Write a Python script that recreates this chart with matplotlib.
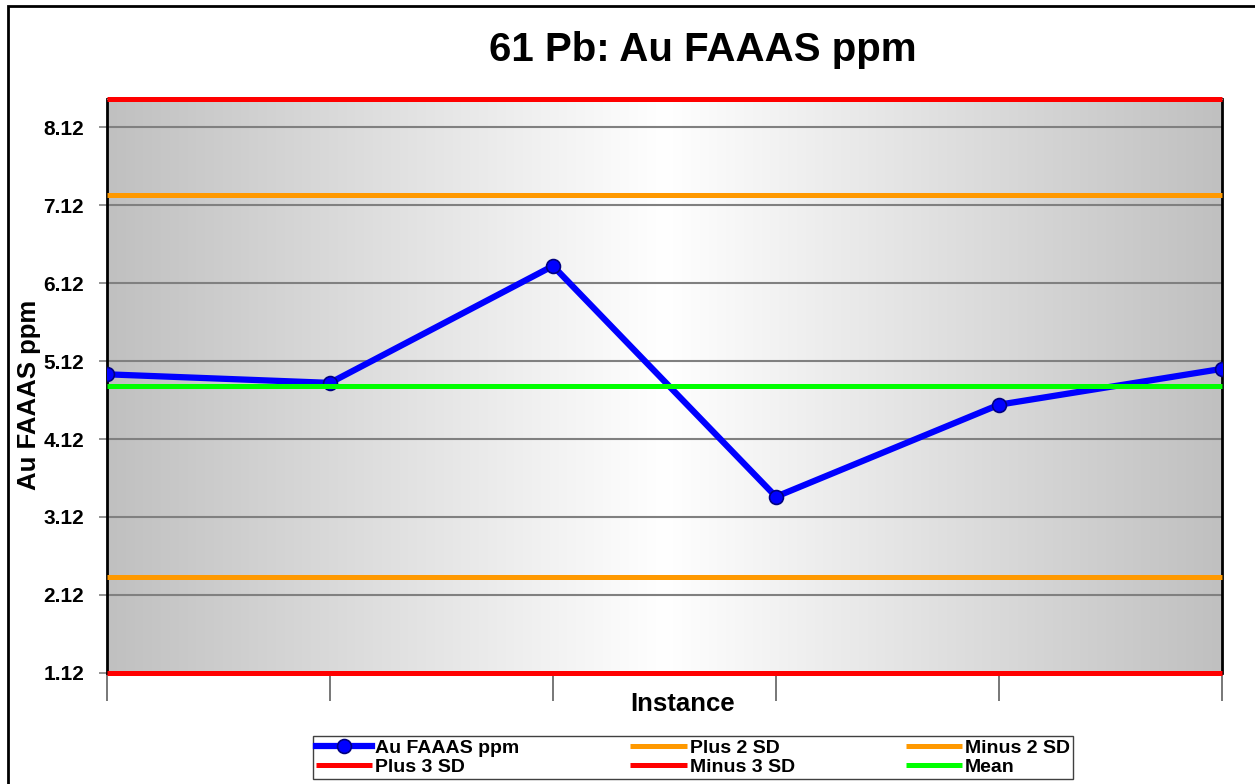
import numpy as np
import matplotlib
matplotlib.use("Agg")
import matplotlib.pyplot as plt
from matplotlib.patches import Rectangle

plt.rcParams["font.family"] = ["Liberation Sans", "DejaVu Sans"]
plt.rcParams["font.weight"] = "bold"

# data
instances = [1, 2, 3, 4, 5, 6]
au_ppm = [4.95, 4.84, 6.34, 3.38, 4.56, 5.02]
mean_val = 4.80
sd_val = 1.227
y_ticks = [1.12, 2.12, 3.12, 4.12, 5.12, 6.12, 7.12, 8.12]

plus2 = mean_val + 2 * sd_val
minus2 = mean_val - 2 * sd_val
plus3 = mean_val + 3 * sd_val
minus3 = mean_val - 3 * sd_val

W, H = 1255, 784
fig = plt.figure(figsize=(W / 100, H / 100), dpi=100)
ax = fig.add_axes([107 / W, 1 - 673 / H, (1222 - 107) / W, (673 - 99) / H])

x0, x1 = instances[0], instances[-1]
ax.set_xlim(x0, x1)
ax.set_ylim(minus3, plus3)

# horizontal gray-white-gray gradient background
t = np.linspace(0, 1, 512)
shade = 1 - np.abs(t - 0.5) * 2
row = (192 + 63 * shade) / 255
grad = np.dstack([row, row, row])
ax.imshow(grad, extent=[x0, x1, minus3, plus3], aspect="auto", zorder=0,
          interpolation="bilinear")

for yv in y_ticks:
    ax.axhline(yv, color="#808080", lw=1.5, zorder=1)

ln_au, = ax.plot(instances, au_ppm, color="#0000ff", lw=4.5, marker="o", ms=10,
                 mfc="#0000ff", mec="#000080", mew=1.2, zorder=3,
                 label="Au FAAAS ppm")
kw = dict(lw=3.6, zorder=4, clip_on=False, solid_capstyle="butt")
ln_p2, = ax.plot([x0, x1], [plus2, plus2], color="#ff9900", label="Plus 2 SD", **kw)
ln_m2, = ax.plot([x0, x1], [minus2, minus2], color="#ff9900", label="Minus 2 SD", **kw)
ln_p3, = ax.plot([x0, x1], [plus3, plus3], color="#ff0000", label="Plus 3 SD", **kw)
ln_m3, = ax.plot([x0, x1], [minus3, minus3], color="#ff0000", label="Minus 3 SD", **kw)
ln_mn, = ax.plot([x0, x1], [mean_val, mean_val], color="#00ff00", label="Mean", **kw)

ax.set_yticks(y_ticks)
ax.set_yticklabels([f"{v:.2f}" for v in y_ticks], fontsize=15, fontweight="bold")
ax.set_xticks(instances)
ax.set_xticklabels([])
ax.tick_params(axis="y", length=6, width=1.2, color="#808080", pad=10.5)
ax.tick_params(axis="x", length=20, width=1.2, color="#606060")

for s in ("left", "right"):
    ax.spines[s].set_color("black")
    ax.spines[s].set_linewidth(2)
ax.spines["top"].set_color("#a0a0a0")
ax.spines["bottom"].set_visible(False)

fig.text(703 / W, 1 - 50 / H, "61 Pb: Au FAAAS ppm", ha="center", va="center",
         fontsize=29, fontweight="bold")
fig.text(683 / W, 1 - 704 / H, "Instance", ha="center", va="center",
         fontsize=18.5, fontweight="bold")
fig.text(29 / W, 1 - 395 / H, "Au FAAAS ppm", ha="center", va="center",
         rotation=90, fontsize=18.5, fontweight="bold")

handles = [ln_au, ln_p3, ln_p2, ln_m3, ln_m2, ln_mn]
leg = fig.legend(handles, [h.get_label() for h in handles], ncol=3,
                 loc="center", bbox_to_anchor=(693 / W, 1 - 757.5 / H),
                 fancybox=False, edgecolor="#404040", framealpha=1,
                 handlelength=2.9, handletextpad=0.15, columnspacing=5.7,
                 labelspacing=0.1, borderpad=0.15,
                 prop={"weight": "bold", "size": 14})
leg.get_frame().set_linewidth(1.0)

# outer chart frame (only top and left edges fall inside the image)
fig.patches.append(Rectangle((8 / W, -0.05), 1.1, 1 - 6 / H + 0.05,
                             transform=fig.transFigure, fill=False,
                             edgecolor="black", lw=2))

fig.savefig("out.png", dpi=100)
